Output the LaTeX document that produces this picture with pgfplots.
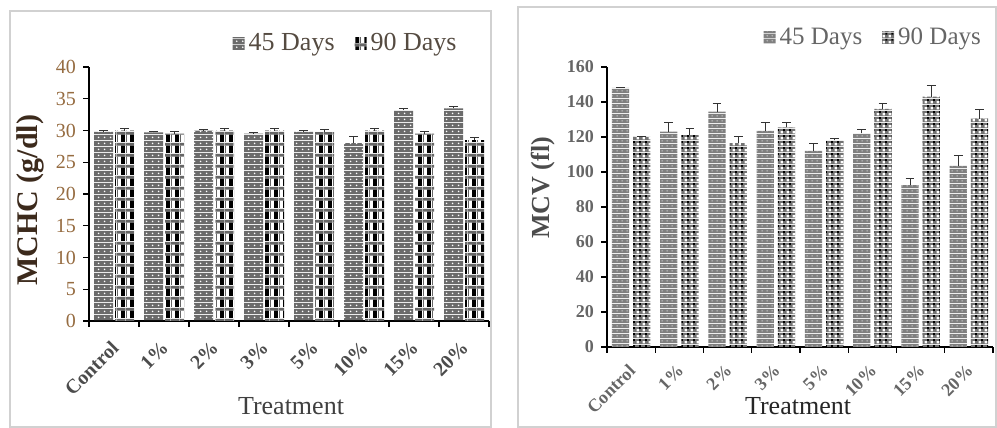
\documentclass[border=0pt]{standalone}
\usepackage{pgfplots}
\usepackage{pgfplotstable}
\pgfplotsset{compat=1.18}
\usepackage{fontspec}
\setmainfont{Liberation Serif}
\usetikzlibrary{patterns}

\pgfdeclarepatterninherentlycolored{Lfortyfive}{\pgfpointorigin}{\pgfpoint{3pt}{3pt}}{\pgfpoint{3pt}{3pt}}{%
 \pgfsetfillcolor{black!58}\pgfpathrectangle{\pgfpointorigin}{\pgfpoint{3pt}{3pt}}\pgfusepath{fill}%
 \pgfsetfillcolor{white}\pgfpathcircle{\pgfpoint{1.5pt}{1.5pt}}{0.5pt}\pgfusepath{fill}}
\pgfdeclarepatterninherentlycolored{Lninety}{\pgfpointorigin}{\pgfpoint{4.5pt}{5.5pt}}{\pgfpoint{4.5pt}{5.5pt}}{%
 \pgfsetfillcolor{white}\pgfpathrectangle{\pgfpointorigin}{\pgfpoint{4.5pt}{5.5pt}}\pgfusepath{fill}%
 \pgfsetfillcolor{black!60}\pgfpathrectangle{\pgfpoint{0pt}{4pt}}{\pgfpoint{4.5pt}{1.5pt}}\pgfusepath{fill}%
 \pgfpathrectangle{\pgfpoint{0pt}{0pt}}{\pgfpoint{0.5pt}{4pt}}\pgfusepath{fill}%
 \pgfsetfillcolor{black}\pgfpathrectangle{\pgfpoint{2.3pt}{0pt}}{\pgfpoint{2pt}{4pt}}\pgfusepath{fill}}
\pgfdeclarepatterninherentlycolored{Rfortyfive}{\pgfpointorigin}{\pgfpoint{2.5pt}{2.5pt}}{\pgfpoint{2.5pt}{2.5pt}}{%
 \pgfsetfillcolor{black!50}\pgfpathrectangle{\pgfpointorigin}{\pgfpoint{2.5pt}{2.5pt}}\pgfusepath{fill}%
 \pgfsetfillcolor{black!28}\pgfpathcircle{\pgfpoint{1.25pt}{1.25pt}}{0.5pt}\pgfusepath{fill}}
\pgfdeclarepatterninherentlycolored{Rninety}{\pgfpointorigin}{\pgfpoint{3pt}{3pt}}{\pgfpoint{3pt}{3pt}}{%
 \pgfsetfillcolor{black!55}\pgfpathrectangle{\pgfpointorigin}{\pgfpoint{3pt}{3pt}}\pgfusepath{fill}%
 \pgfsetfillcolor{white}\pgfpathrectangle{\pgfpoint{0.3pt}{0.3pt}}{\pgfpoint{1.3pt}{1.3pt}}\pgfusepath{fill}%
 \pgfsetfillcolor{black}\pgfpathrectangle{\pgfpoint{1.8pt}{1.8pt}}{\pgfpoint{1.1pt}{1.1pt}}\pgfusepath{fill}}

\definecolor{tan}{RGB}{150,108,65}
\definecolor{darkbrown}{RGB}{60,42,28}
\definecolor{legbrown}{RGB}{85,75,65}

\pgfplotstableread{
x a ea b eb
0 29.8 0.2 30.0 0.3
1 29.7 0.2 29.5 0.4
2 30.0 0.2 30.0 0.3
3 29.5 0.2 30.0 0.3
4 29.8 0.2 29.8 0.3
5 28.0 1.0 30.0 0.3
6 33.2 0.3 29.5 0.3
7 33.5 0.3 28.5 0.4
}\mchc
\pgfplotstableread{
x a ea b eb
0 148.0 0.5 120.0 0.5
1 123.0 5.5 121.0 4.0
2 134.5 4.5 116.5 3.5
3 123.5 4.5 125.5 2.5
4 112.0 4.5 118.0 1.0
5 122.0 2.5 136.0 3.2
6 92.5 3.5 143.0 6.5
7 103.5 5.7 130.5 5.0
}\mcv

\pgfplotsset{
 common/.style={
  anchor=south west, scale only axis,
  xmin=-0.5, xmax=7.5,
  axis lines*=left, axis line style={-, line width=0.7pt},
  xtick={0,...,7},
  xticklabels={Control,1\%,2\%,3\%,5\%,10\%,15\%,20\%},
  major x tick style={draw=none},
  minor xtick={-0.5,0.5,...,7.5},
  minor x tick style={black, line width=0.6pt},
  minor tick length=3pt, major tick length=3pt,
  tick align=outside,
  y tick style={black, line width=0.6pt},
  /pgf/number format/assume math mode=true,
  legend style={draw=none, fill=none, legend columns=2, inner sep=0pt,
    /tikz/every even column/.append style={column sep=8pt}},
  legend image code/.code={\path[#1] (0pt,-3pt) rectangle (6pt,3pt);},
  error bars/y dir=plus, error bars/y explicit,
  error bars/error bar style={black!80, line width=0.5pt},
  error bars/error mark options={rotate=90, mark size=2.2pt, black!80, line width=0.5pt},
 }
}

\begin{document}
\begin{tikzpicture}
\useasboundingbox (0,0) rectangle (498.5pt,214pt);
\fill[white] (0,0) rectangle (498.5pt,214pt);

% Left panel
\begin{axis}[common,
 at={(44.5pt,53.5pt)}, width=200pt, height=127pt,
 ymin=0, ymax=40, ytick={0,5,...,40},
 xticklabel style={xshift=3pt, yshift=-6.5pt, rotate=45, anchor=east, font=\bfseries\fontsize{10}{12}\selectfont, text=black!70},
 yticklabel style={font=\fontsize{10}{12}\selectfont, text=tan},
 ylabel={MCHC (g/dl)},
 ylabel style={at={(axis description cs:-0.1475,0.476)}, anchor=center, font=\bfseries\fontsize{15}{18}\selectfont, text=darkbrown},
 xlabel={Treatment},
 xlabel style={at={(axis description cs:0.505,-0.335)}, anchor=center, font=\fontsize{13}{16}\selectfont, text=black!75},
 legend style={at={(0.93,1.035)}, anchor=south east, font=\fontsize{13}{15}\selectfont, text=legbrown},
 bar width=0.38,
]
\addplot[ybar, bar shift=0, draw=none, pattern=Lfortyfive] table[x expr=\thisrow{x}-0.21, y=a, y error=ea] {\mchc};
\addlegendentry{45 Days}
\addplot[ybar, bar shift=0, draw=none, pattern=Lninety] table[x expr=\thisrow{x}+0.21, y=b, y error=eb] {\mchc};
\addlegendentry{90 Days}
\end{axis}

% Right panel
\begin{axis}[common,
 at={(303.5pt,40.5pt)}, width=193pt, height=140pt,
 ymin=0, ymax=160, ytick={0,20,...,160},
 xticklabel style={xshift=3pt, yshift=-5pt, rotate=45, anchor=east, font=\bfseries\fontsize{9}{11}\selectfont, text=black!60},
 yticklabel style={font=\bfseries\fontsize{9}{11}\selectfont, text=black!60},
 ylabel={MCV (fl)},
 ylabel style={at={(axis description cs:-0.166,0.568)}, anchor=center, font=\bfseries\fontsize{13}{16}\selectfont, text=black!70},
 xlabel={Treatment},
 xlabel style={at={(axis description cs:0.495,-0.212)}, anchor=center, font=\fontsize{13}{16}\selectfont, text=black!85},
 legend style={at={(0.98,1.054)}, anchor=south east, font=\fontsize{12.5}{15}\selectfont, text=black!60},
 bar width=0.36,
]
\addplot[ybar, bar shift=0, draw=none, pattern=Rfortyfive] table[x expr=\thisrow{x}-0.22, y=a, y error=ea] {\mcv};
\addlegendentry{45 Days}
\addplot[ybar, bar shift=0, draw=none, pattern=Rninety] table[x expr=\thisrow{x}+0.22, y=b, y error=eb] {\mcv};
\addlegendentry{90 Days}
\end{axis}

\draw[black!18, line width=0.8pt] (5pt,0.5pt) rectangle (245.5pt,208.5pt);
\draw[black!18, line width=0.8pt] (259pt,0.5pt) rectangle (498pt,210.5pt);
\end{tikzpicture}
\end{document}
